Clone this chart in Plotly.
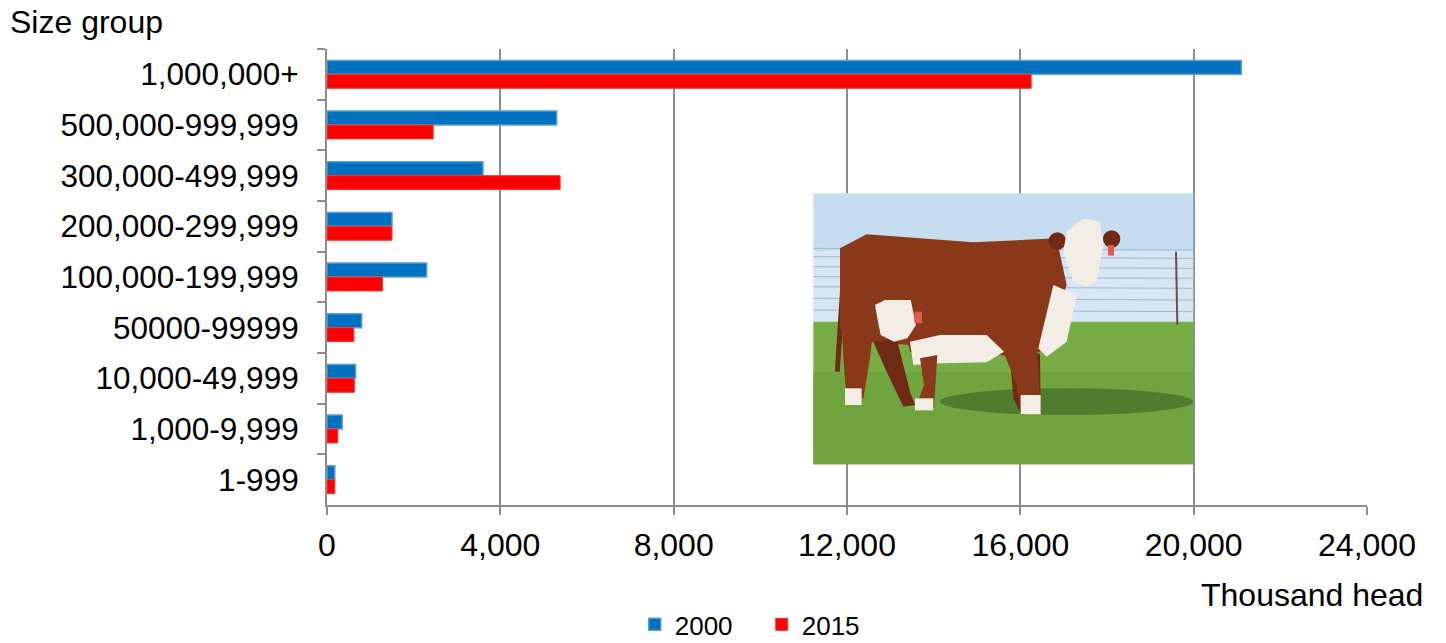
import plotly.graph_objects as go

categories = ["1,000,000+", "500,000-999,999", "300,000-499,999", "200,000-299,999",
              "100,000-199,999", "50000-99999", "10,000-49,999", "1,000-9,999", "1-999"]
values_2000 = [21100, 5300, 3600, 1500, 2300, 800, 660, 350, 180]
values_2015 = [16250, 2450, 5380, 1500, 1280, 620, 630, 250, 180]
x_ticks = [0, 4000, 8000, 12000, 16000, 20000, 24000]
x_tick_labels = ["0", "4,000", "8,000", "12,000", "16,000", "20,000", "24,000"]

FONT = "Liberation Sans, Arial, sans-serif"
L, R, T, B = 327, 79, 49, 138
W, H = 1446, 643
PW, PH = W - L - R, H - T - B

fig = go.Figure()
fig.add_trace(go.Bar(y=categories, x=values_2000, name="2000", orientation="h",
                     marker=dict(color="#0070C0", line=dict(color="#5B9BD5", width=1.5))))
fig.add_trace(go.Bar(y=categories, x=values_2015, name="2015", orientation="h",
                     marker=dict(color="#FF0000", line=dict(color="#FF3030", width=1))))


def P(zx, zy):
    sx = 800 + zx / 3.0
    sy = 185 + zy / 3.0
    return (sx - L) / PW, (H - B - sy) / PH


def poly(pts, color, line_color=None, width=0):
    d = ""
    for i, (zx, zy) in enumerate(pts):
        x, y = P(zx, zy)
        d += ("M" if i == 0 else "L") + f"{x:.5f},{y:.5f} "
    d += "Z"
    return dict(type="path", path=d, xref="paper", yref="paper", fillcolor=color,
                line=dict(color=line_color or color, width=width), layer="above")


def rect(z0, z1, color):
    x0, y0 = P(*z0)
    x1, y1 = P(*z1)
    return dict(type="rect", x0=x0, y0=y0, x1=x1, y1=y1, xref="paper", yref="paper",
                fillcolor=color, line=dict(width=0), layer="above")


def circ(cx, cy, r, color):
    x0, y0 = P(cx - r, cy - r)
    x1, y1 = P(cx + r, cy + r)
    return dict(type="circle", x0=x0, y0=y0, x1=x1, y1=y1, xref="paper", yref="paper",
                fillcolor=color, line=dict(width=0), layer="above")


def seg(z0, z1, color, width):
    x0, y0 = P(*z0)
    x1, y1 = P(*z1)
    return dict(type="line", x0=x0, y0=y0, x1=x1, y1=y1, xref="paper", yref="paper",
                line=dict(color=color, width=width), layer="above")


brown = "#8a381a"
dbrown = "#6e2a12"
white = "#f2eee6"
shapes = [
    rect((40, 25), (1180, 200), "#c6dcf1"),
    rect((40, 200), (1180, 415), "#d6e6f4"),
    rect((40, 410), (1180, 838), "#78ad45"),
    rect((40, 560), (1180, 838), "#6fa43e"),
]
for fy in [190, 215, 245, 275, 305, 340, 375]:
    shapes.append(seg((40, fy), (1180, fy + 5), "#a9b8c6", 1))
shapes.append(seg((1128, 200), (1132, 420), "#6b5040", 2))
shapes.append(dict(type="circle", xref="paper", yref="paper",
                   x0=P(420, 610)[0], y0=P(420, 610)[1], x1=P(1180, 690)[0], y1=P(1180, 690)[1],
                   fillcolor="#4f7d2d", line=dict(width=0), layer="above"))
# big cow
shapes += [
    seg((135, 200), (112, 560), dbrown, 5),
    poly([(120, 190), (200, 148), (520, 172), (770, 160), (800, 300), (760, 420),
          (720, 500), (600, 500), (200, 470), (120, 430)], brown),
    poly([(220, 470), (290, 460), (330, 620), (345, 660), (310, 665), (260, 560)], dbrown),
    poly([(125, 410), (220, 430), (210, 520), (190, 640), (140, 645), (130, 520)], brown),
    rect((135, 610), (185, 660), white),
    poly([(760, 300), (830, 330), (800, 470), (740, 515), (715, 490)], white),
    poly([(630, 520), (720, 505), (722, 680), (665, 690), (640, 640)], dbrown),
    circ(772, 168, 26, dbrown),
    circ(935, 162, 26, dbrown),
    poly([(800, 140), (850, 100), (900, 110), (910, 180), (890, 290), (860, 305),
          (820, 290), (790, 200)], white),
    rect((924, 180), (942, 212), "#e35a4a"),
]
# calf
shapes += [
    poly([(320, 360), (480, 350), (680, 345), (712, 400), (712, 520), (600, 510),
          (420, 520), (330, 500), (310, 420)], brown),
    poly([(330, 470), (420, 450), (560, 450), (612, 500), (560, 532), (420, 535), (340, 540)], white),
    poly([(360, 520), (412, 510), (402, 670), (345, 675), (372, 600)], brown),
    rect((345, 640), (400, 676), white),
    poly([(610, 500), (712, 500), (722, 680), (665, 690), (650, 600)], brown),
    rect((662, 630), (722, 688), white),
    circ(240, 368, 18, brown),
    poly([(225, 360), (255, 345), (332, 345), (348, 420), (322, 460), (282, 470),
          (242, 450), (232, 400)], white),
    rect((343, 380), (366, 415), "#e35a4a"),
]

fig.update_layout(
    width=W, height=H,
    margin=dict(l=L, r=R, t=T, b=B, autoexpand=False),
    paper_bgcolor="white", plot_bgcolor="white",
    barmode="group", bargap=0.45, bargroupgap=0,
    font=dict(family=FONT, size=32, color="black"),
    showlegend=True,
    legend=dict(orientation="h", x=0.418, xanchor="center", y=-0.262, yanchor="middle",
                font=dict(size=26), traceorder="normal", entrywidth=82,
                bgcolor="rgba(0,0,0,0)"),
    xaxis=dict(range=[0, 24000], tickvals=x_ticks, ticktext=x_tick_labels,
               showgrid=True, gridcolor="#8c8c8c", gridwidth=1.5,
               showline=True, linecolor="#8c8c8c", linewidth=2,
               ticks="outside", ticklen=8, tickcolor="#8c8c8c", tickwidth=2,
               ticklabelstandoff=3, zeroline=False, fixedrange=True),
    yaxis=dict(categoryorder="array", categoryarray=categories, autorange="reversed",
               showline=True, linecolor="#8c8c8c", linewidth=2,
               ticks="outside", ticklen=8, tickcolor="#8c8c8c", tickwidth=2,
               tickson="boundaries", showgrid=False, ticklabelstandoff=20,
               tickfont=dict(size=31.5)),
    shapes=shapes,
    annotations=[
        dict(text="Size group", xref="paper", yref="paper", x=(8 - L) / PW, y=(H - B - 22) / PH,
             xanchor="left", yanchor="middle", showarrow=False, font=dict(size=32)),
        dict(text="Thousand head", xref="paper", yref="paper", x=(1425 - L) / PW,
             y=(H - B - 595) / PH, xanchor="right", yanchor="middle", showarrow=False,
             font=dict(size=32)),
    ],
)

fig.write_html("out.html", config={"displayModeBar": False},
               post_script="document.body.style.margin='0';document.body.style.overflow='hidden';")
